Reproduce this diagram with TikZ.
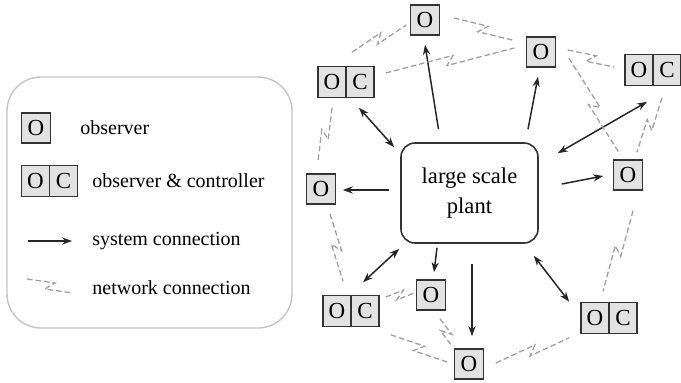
\documentclass[tikz,border=0pt]{standalone}
\usepackage{fontspec}
\setmainfont{Liberation Serif}
\usetikzlibrary{calc,arrows.meta}
\definecolor{boxfill}{HTML}{E2E2E2}
\definecolor{boxline}{HTML}{333333}
\definecolor{netgray}{HTML}{A0A0A0}
\definecolor{legline}{HTML}{C4C4C4}
\tikzset{
  obs/.style={draw=boxline, line width=0.8pt, fill=boxfill, minimum width=14.5pt, minimum height=15pt, inner sep=0pt, font=\fontsize{11.5}{12}\selectfont},
  obsctl/.style={draw=boxline, line width=0.8pt, fill=boxfill, minimum width=28pt, minimum height=15.5pt, inner sep=0pt, font=\fontsize{11.5}{12}\selectfont,
     path picture={\draw[boxline, line width=0.8pt] (path picture bounding box.north) -- (path picture bounding box.south);}},
  plantbox/.style={draw=boxline, line width=0.8pt, rounded corners=7pt, minimum width=68.5pt, minimum height=50pt, align=center, font=\fontsize{11.3}{15}\selectfont},
  sys/.style={draw=black!85, line width=0.75pt, -{Stealth[length=5pt,width=3.6pt]}},
  sysboth/.style={draw=black!85, line width=0.75pt, {Stealth[length=5pt,width=3.6pt]}-{Stealth[length=5pt,width=3.6pt]}},
  netline/.style={draw=netgray, line width=0.65pt, dash pattern=on 2.8pt off 1.5pt},
  legtext/.style={anchor=west, inner sep=0pt, font=\fontsize{10}{12}\selectfont},
}
\newcommand\netlink[2]{\draw[netline] (#1) -- ($(#1)!0.5!(#2)!2pt!(#2)!2.2pt!90:(#2)$) -- ($(#1)!0.5!(#2)!-2pt!(#2)!2.2pt!-90:(#2)$) -- (#2);}
\newcommand\OC{\makebox[14pt]{O}\makebox[14pt]{C}}
\begin{document}
\begin{tikzpicture}[x=0.5pt,y=-0.5pt]
\useasboundingbox (0,0) rectangle (681,382);
% legend
\draw[legline, line width=0.7pt, rounded corners=17pt] (7,77) rectangle (292,328);
\node[obs] (lo) at (36,128) {O};
\node[obsctl] (loc) at (49.5,181) {\OC};
\node[legtext] (lt1) at (80,128) {observer};
\node[legtext] (lt2) at (92,181) {observer \& controller};
\node[legtext] (lt3) at (92,241) {system connection};
\node[legtext] (lt4) at (92,288) {network connection};
\coordinate (la1) at (28,241);
\coordinate (la2) at (72,241);
\draw[sys] (la1) -- (la2);
\coordinate (ln1) at (27,279);
\coordinate (ln2) at (73,293);
\netlink{ln1}{ln2}
% plant and nodes
\node[plantbox] (plant) at (469.5,193) {large scale\\plant};
\node[obs] (ot) at (425,20) {O};
\node[obs] (o2) at (541,52) {O};
\node[obsctl] (octl) at (346,82) {\OC};
\node[obsctl] (octr) at (653,70) {\OC};
\node[obs] (or) at (628,175) {O};
\node[obs] (ol) at (321,189) {O};
\node[obsctl] (ocbl) at (351,311) {\OC};
\node[obs] (obm) at (431,295) {O};
\node[obs] (ob) at (469,364) {O};
\node[obsctl] (ocbr) at (609,318) {\OC};
% system connections
\draw[sys] ($(plant.north)+(-31,-13)$) -- ($(ot.south)+(0,9)$);
\draw[sys] ($(plant.north)+(58.5,-13)$) -- ($(o2.south)+(-3,9)$);
\draw[sysboth] ($(octl.south)+(13,9.5)$) -- ($(plant.north west)+(-6,5)$);
\draw[sysboth] ($(plant.north east)+(19,11)$) -- ($(octr.south)+(-6,15.5)$);
\draw[sys] ($(plant.east)+(23,-9)$) -- ($(or.west)+(-9.5,1)$);
\draw[sys] ($(plant.west)+(-11,-3)$) -- ($(ol.east)+(6.5,1)$);
\draw[sysboth] ($(plant.south west)+(-1,5)$) -- ($(ocbl.north)+(12,-12.5)$);
\draw[sys] ($(plant.south)+(-32.5,4)$) -- ($(obm.north)+(3,-7)$);
\draw[sys] ($(plant.south)+(2.5,20)$) -- ($(ob.north)+(3,-12)$);
\draw[sysboth] ($(plant.south east)+(-5,12)$) -- ($(ocbr.north west)+(-11,0)$);
% network connections
\coordinate (a1) at ($(octl.north)+(6,-13.5)$);
\coordinate (a2) at ($(ot.west)+(-3.5,5)$);
\coordinate (b1) at ($(ot.east)+(13.5,-2)$);
\coordinate (b2) at ($(o2.west)+(-13.5,-12)$);
\coordinate (c1) at ($(octl.east)+(11,-9)$);
\coordinate (c2) at ($(o2.west)+(-11.5,-4)$);
\coordinate (d1) at ($(o2.east)+(11.5,-2)$);
\coordinate (d2) at ($(octr.west)+(-10,-3)$);
\coordinate (e1) at ($(o2.east)+(12.5,6)$);
\coordinate (e2) at ($(or.north)+(-8,-5)$);
\coordinate (f1) at ($(octr.south)+(9,11.5)$);
\coordinate (f2) at ($(or.north)+(9,-7)$);
\coordinate (g1) at ($(octl.south)+(-14,9.5)$);
\coordinate (g2) at ($(ol.north)+(-3,-12)$);
\coordinate (h1) at ($(ol.south)+(9,9)$);
\coordinate (h2) at ($(ocbl.north)+(-8,-13.5)$);
\coordinate (i1) at ($(ocbl.east)+(6,-14)$);
\coordinate (i2) at ($(obm.west)+(-1.5,-2)$);
\coordinate (j1) at ($(ocbl.south east)+(11,7.5)$);
\coordinate (j2) at ($(ob.west)+(-6.5,-2)$);
\coordinate (k1) at ($(obm.south)+(9,8)$);
\coordinate (k2) at ($(ob.north west)+(-1.5,-2)$);
\coordinate (l1) at ($(ob.east)+(11.5,-1)$);
\coordinate (l2) at ($(ocbr.south west)+(-11,3.5)$);
\coordinate (m1) at ($(or.south)+(5,20)$);
\coordinate (m2) at ($(ocbr.north)+(-6,-10.5)$);
\netlink{a1}{a2}
\netlink{b1}{b2}
\netlink{c1}{c2}
\netlink{d1}{d2}
\netlink{e1}{e2}
\netlink{f1}{f2}
\netlink{g1}{g2}
\netlink{h1}{h2}
\netlink{i1}{i2}
\netlink{j1}{j2}
\netlink{k1}{k2}
\netlink{l1}{l2}
\netlink{m1}{m2}
\end{tikzpicture}
\end{document}
